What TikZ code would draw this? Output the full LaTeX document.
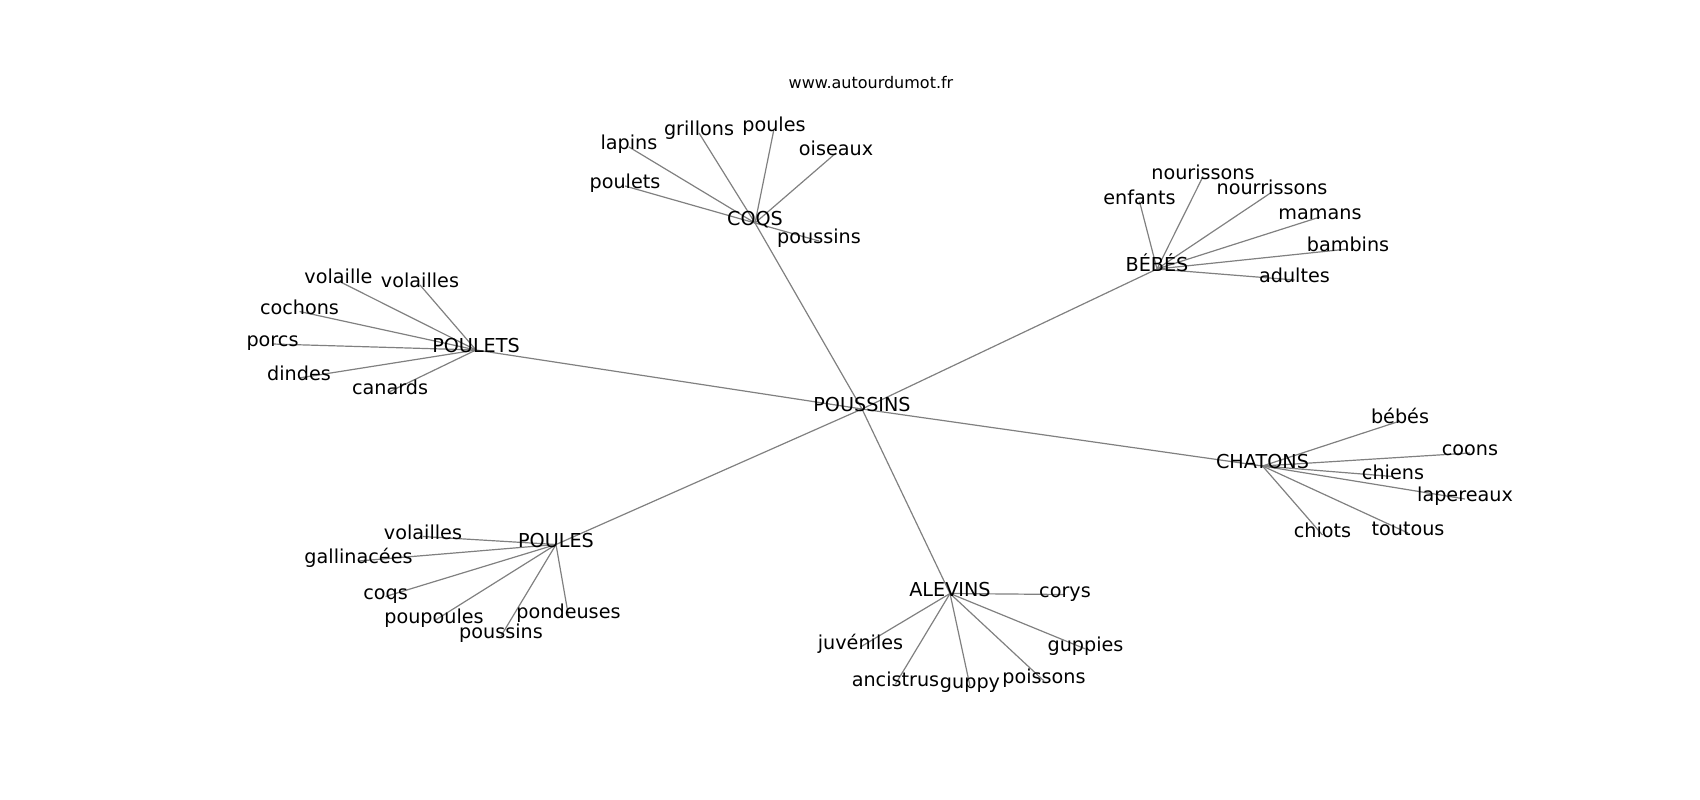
\documentclass[tikz,border=0pt]{standalone}
\usepackage{fontspec}
\setmainfont{DejaVu Sans}
\pgfdeclarelayer{bg}
\pgfsetlayers{bg,main}
\begin{document}
\begin{tikzpicture}[x=1pt,y=-1pt,
  lbl/.style={inner sep=0pt, text height=0.76em, text depth=0.24em, anchor=center, font=\fontsize{19.2}{21}\selectfont, text=black},
  ttl/.style={inner sep=0pt, text height=0.76em, text depth=0.24em, anchor=center, font=\fontsize{16}{18}\selectfont, text=black},
  edge/.style={draw=black!50, line width=1.2pt}]
\useasboundingbox (0,0) rectangle (1700,800);
\begin{scope}[shift={(0,4)}]
\node[ttl] (title) at (871,82) {www.autourdumot.fr};
% hubs
\node[lbl] (poussins) at (862,405) {POUSSINS};
\node[lbl] (coqs) at (755,219) {COQS};
\node[lbl] (bebes) at (1157,265) {BÉBÉS};
\node[lbl] (poulets) at (476,346) {POULETS};
\node[lbl] (chatons) at (1262.5,462) {CHATONS};
\node[lbl] (poules) at (556,540.5) {POULES};
\node[lbl] (alevins) at (950,589.5) {ALEVINS};
% COQS leaves
\node[lbl] (c1) at (629,143) {lapins};
\node[lbl] (c2) at (699,129) {grillons};
\node[lbl] (c3) at (774,125) {poules};
\node[lbl] (c4) at (836,149) {oiseaux};
\node[lbl] (c5) at (625,182) {poulets};
\node[lbl] (c6) at (819,237) {poussins};
% BEBES leaves
\node[lbl] (b1) at (1203,172.5) {nourissons};
\node[lbl] (b2) at (1272,188) {nourrissons};
\node[lbl] (b3) at (1139.5,197.5) {enfants};
\node[lbl] (b4) at (1320,213) {mamans};
\node[lbl] (b5) at (1348,245) {bambins};
\node[lbl] (b6) at (1294.5,276) {adultes};
% POULETS leaves
\node[lbl] (p1) at (338.5,277) {volaille};
\node[lbl] (p2) at (420,281) {volailles};
\node[lbl] (p3) at (299.5,307.5) {cochons};
\node[lbl] (p4) at (272.5,340) {porcs};
\node[lbl] (p5) at (299,374) {dindes};
\node[lbl] (p6) at (390,387.5) {canards};
% CHATONS leaves
\node[lbl] (h1) at (1400,417) {bébés};
\node[lbl] (h2) at (1470,449) {coons};
\node[lbl] (h3) at (1393,472.5) {chiens};
\node[lbl] (h4) at (1465,495) {lapereaux};
\node[lbl] (h5) at (1322.5,531) {chiots};
\node[lbl] (h6) at (1408,529) {toutous};
% POULES leaves
\node[lbl] (s1) at (423,532.5) {volailles};
\node[lbl] (s2) at (358.5,557) {gallinacées};
\node[lbl] (s3) at (385.5,592.5) {coqs};
\node[lbl] (s4) at (434,617) {poupoules};
\node[lbl] (s5) at (568.5,612) {pondeuses};
\node[lbl] (s6) at (501,632) {poussins};
% ALEVINS leaves
\node[lbl] (a1) at (1065,590.5) {corys};
\node[lbl] (a2) at (860.5,643) {juvéniles};
\node[lbl] (a3) at (1085.5,645) {guppies};
\node[lbl] (a4) at (895.5,680) {ancistrus};
\node[lbl] (a5) at (970,682) {guppy};
\node[lbl] (a6) at (1044,677) {poissons};
\end{scope}
\begin{pgfonlayer}{bg}
\foreach \h in {coqs,bebes,poulets,chatons,poules,alevins}
  \draw[edge] (poussins.center) -- (\h.center);
\foreach \l in {c1,c2,c3,c4,c5,c6} \draw[edge] (coqs.center) -- (\l.center);
\foreach \l in {b1,b2,b3,b4,b5,b6} \draw[edge] (bebes.center) -- (\l.center);
\foreach \l in {p1,p2,p3,p4,p5,p6} \draw[edge] (poulets.center) -- (\l.center);
\foreach \l in {h1,h2,h3,h4,h5,h6} \draw[edge] (chatons.center) -- (\l.center);
\foreach \l in {s1,s2,s3,s4,s5,s6} \draw[edge] (poules.center) -- (\l.center);
\foreach \l in {a1,a2,a3,a4,a5,a6} \draw[edge] (alevins.center) -- (\l.center);
\end{pgfonlayer}
\end{tikzpicture}
\end{document}
